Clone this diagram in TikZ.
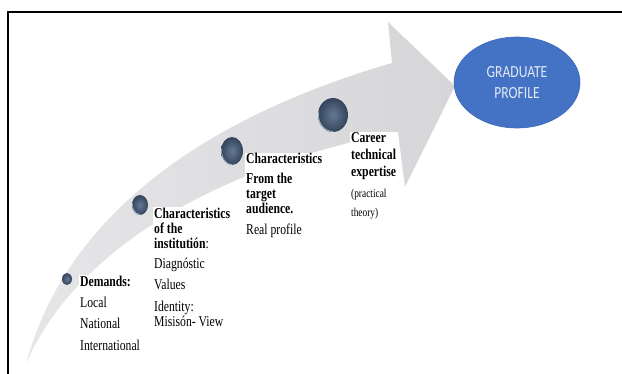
\documentclass[tikz,border=0pt]{standalone}
\usepackage{fontspec}
\setmainfont{Liberation Serif}[FakeStretch=0.78]
\newfontfamily\calib{Carlito}[FakeStretch=0.8]
\usetikzlibrary{shapes.geometric,calc}
\definecolor{ovalblue}{HTML}{4472C4}
\definecolor{ovaledge}{HTML}{3E68B4}
\definecolor{ovaltext}{HTML}{E2E9F6}
\definecolor{sphin}{HTML}{667A94}
\definecolor{sphout}{HTML}{33445B}
\definecolor{sphrim}{HTML}{A9BCD4}
\definecolor{arrowtail}{HTML}{E6E6E8}
\definecolor{arrowmid}{HTML}{C6C6CA}
\definecolor{arrowhead}{HTML}{D6D6D9}
\begin{document}
\begin{tikzpicture}[x=1pt,y=-1pt,
  txt/.style={anchor=base west, align=left, inner sep=1pt, fill=white, text=black,
              font=\fontsize{15}{15}\selectfont},
  smalltxt/.style={txt, font=\fontsize{12}{13}\selectfont},
  sphere/.style={ellipse, inner sep=0pt, draw=none, inner color=sphin, outer color=sphout},
  rim/.style={draw=sphrim, line width=0.7pt, line cap=round},
  oval/.style={ellipse, draw=ovaledge, line width=0.6pt, fill=ovalblue, text=ovaltext,
               align=center, font=\calib\fontsize{17}{21}\selectfont}]
\useasboundingbox (0,0) rectangle (622,374);
% frame
\draw[line width=1.4pt] (8,374) -- (8,12) -- (622,12);
% curved arrow
\shade[left color=arrowtail, middle color=arrowmid, right color=arrowhead]
  (26,364) .. controls (70,200) and (230,110) .. (392,63)
  -- (388,22) -- (455,86) -- (405,187) -- (398,132)
  .. controls (200,170) and (70,260) .. (26,364) -- cycle;
% spheres
\node[sphere, minimum width=10, minimum height=12] (s1) at (67,279) {};
\node[sphere, minimum width=16, minimum height=20] (s2) at (140,205) {};
\node[sphere, minimum width=22, minimum height=28] (s3) at (232,151) {};
\node[sphere, minimum width=30, minimum height=34] (s4) at (333,115) {};
\draw[rim] ($(s2)+(90:7.5 and 9.5)$) arc[start angle=90, end angle=190, x radius=7.5, y radius=9.5];
\draw[rim] ($(s3)+(90:10.5 and 13.5)$) arc[start angle=90, end angle=190, x radius=10.5, y radius=13.5];
\draw[rim] ($(s4)+(90:14.5 and 16.5)$) arc[start angle=90, end angle=190, x radius=14.5, y radius=16.5];
% graduate profile
\node[oval, minimum width=126, minimum height=91] (gp) at (517,82.5) {GRADUATE\\PROFILE};
% texts (anchor = baseline of the last line)
\node[txt] (t1) at (79,350.5) {\textbf{Demands:}\\[6pt]Local\\[6pt]National\\[7pt]International};
\node[txt] (t2) at (153,327) {\textbf{Characteristics}\\\textbf{of the}\\\textbf{institutión}:\\[6pt]Diagnóstic\\[6pt]Values\\[6pt]Identity:\\[1pt]Misisón- View};
\node[txt] (t3) at (245,235) {\textbf{Characteristics}\\[5pt]\textbf{From the}\\\textbf{target}\\\textbf{audience.}\\[6pt]Real profile};
\node[txt] (t4) at (350,176.5) {\textbf{Career}\\[2pt]\textbf{technical}\\[2pt]\textbf{expertise}};
\node[smalltxt] (t5) at (350,216.5) {(practical\\[6pt]theory)};
\end{tikzpicture}
\end{document}
